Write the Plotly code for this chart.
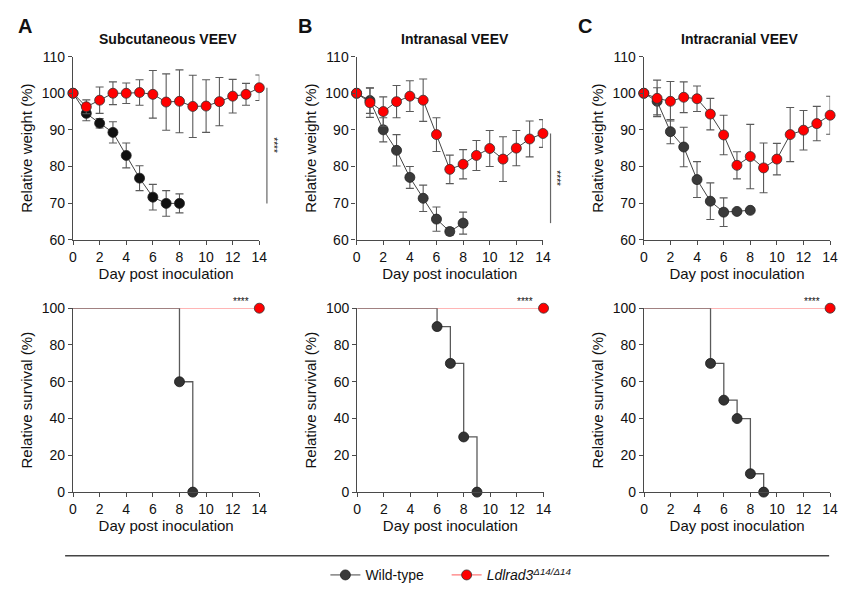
import plotly.graph_objects as go

# ---------------- data ----------------
days_ko = list(range(15))
days_wt = list(range(9))

a_wt = [100, 94.5, 91.8, 89.3, 83.0, 76.8, 71.6, 69.9, 69.9]
a_wt_err = [0, 2.0, 1.3, 2.9, 3.4, 3.4, 3.5, 3.5, 2.6]
a_ko = [100, 96.3, 98.1, 100.0, 100.0, 100.2, 99.7, 97.6, 97.8, 96.4, 96.5, 97.7, 99.2, 99.7, 101.5]
a_ko_err = [0, 1.9, 3.6, 3.1, 2.8, 3.5, 6.5, 7.7, 8.6, 8.5, 7.2, 6.6, 4.6, 3.0, 3.5]

b_wt = [100, 98.0, 90.0, 84.4, 77.0, 71.3, 65.6, 62.2, 64.5]
b_wt_err = [0, 3.5, 3.3, 4.3, 3.0, 3.6, 3.3, 1.0, 3.0]
b_ko = [100, 97.4, 95.0, 97.7, 99.2, 98.1, 88.7, 79.2, 80.6, 83.0, 84.9, 82.0, 85.0, 87.5, 89.0]
b_ko_err = [0, 4.0, 4.0, 4.4, 4.2, 5.8, 4.6, 3.9, 4.0, 4.1, 4.9, 6.1, 4.8, 4.9, 3.8]

c_wt = [100, 97.8, 89.5, 85.3, 76.4, 70.5, 67.5, 67.7, 68.0]
c_wt_err = [0, 3.7, 3.3, 5.4, 4.9, 5.0, 3.9, 0, 0]
c_ko = [100, 98.6, 97.8, 98.9, 98.5, 94.3, 88.6, 80.3, 82.7, 79.6, 82.0, 88.7, 89.9, 91.7, 94.0]
c_ko_err = [0, 5.0, 5.4, 4.2, 3.5, 4.3, 5.4, 3.7, 8.8, 6.8, 4.3, 7.4, 5.4, 4.7, 5.2]

a_surv_days = [0, 8, 9]
a_surv = [100, 60, 0]
b_surv_days = [0, 6, 7, 8, 9]
b_surv = [100, 90, 70, 30, 0]
c_surv_days = [0, 5, 6, 7, 8, 9]
c_surv = [100, 70, 50, 40, 10, 0]
ko_surv_days = [14, 0]
ko_surv = [100, 100]

titles = ["Subcutaneous VEEV", "Intranasal VEEV", "Intracranial VEEV"]
letters = ["A", "B", "C"]
x_ticks = list(range(0, 15, 2))
weight_ticks = [60, 70, 80, 90, 100, 110]
surv_ticks = [0, 20, 40, 60, 80, 100]

# ---------------- layout helpers ----------------
W, H = 846, 595
FONT = "Liberation Sans, Arial, sans-serif"
RED = "#ff0000"
WT_COLORS = ["#111111", "#3a3a3a", "#3a3a3a"]
AX = "#4a4a4a"

def fx(p):
    return p / W

def fy(p):
    return 1 - p / H

top_x_px = [(70, 259), (357.7, 546.7), (649, 838)]
bot_x_px = [(70, 259), (358.3, 547.3), (649.3, 838)]
top_y_px = (50, 238)
bot_y_px = (308.5, 497.5)

fig = go.Figure()

weights = [(a_wt, a_wt_err, a_ko, a_ko_err),
           (b_wt, b_wt_err, b_ko, b_ko_err),
           (c_wt, c_wt_err, c_ko, c_ko_err)]
survs = [(a_surv_days, a_surv), (b_surv_days, b_surv), (c_surv_days, c_surv)]

ko_name = "<i>Ldlrad3</i><sup><i>Δ14/Δ14</i></sup>"

for i in range(3):
    xa = f"x{i+1}" if i > 0 else "x"
    ya = f"y{i+1}" if i > 0 else "y"
    wt, wte, ko, koe = weights[i]
    fig.add_trace(go.Scatter(
        x=days_wt, y=wt, mode="lines+markers", xaxis=xa, yaxis=ya,
        line=dict(color="#444444", width=1),
        marker=dict(size=10, color=WT_COLORS[i], opacity=1, line=dict(color="#222222", width=0.8)),
        error_y=dict(type="data", array=wte, color="#5a5a5a", thickness=1.1, width=4),
        cliponaxis=False, name="Wild-type", showlegend=(i == 1), legend="legend"))
    fig.add_trace(go.Scatter(
        x=days_ko, y=ko, mode="lines+markers", xaxis=xa, yaxis=ya,
        line=dict(color="#444444", width=1),
        marker=dict(size=10, color=RED, opacity=1, line=dict(color="#333333", width=0.8)),
        error_y=dict(type="data", array=koe, color="#5a5a5a", thickness=1.1, width=4),
        cliponaxis=False, name=ko_name, showlegend=False))

for i in range(3):
    xa = f"x{i+4}"
    ya = f"y{i+4}"
    sd, sv = survs[i]
    fig.add_trace(go.Scatter(
        x=ko_surv_days, y=ko_surv, mode="lines+markers", xaxis=xa, yaxis=ya,
        line=dict(color="#ff7b7b", width=1.3),
        marker=dict(size=10, opacity=1, color=[RED, "rgba(0,0,0,0)"],
                    line=dict(color=["#333333", "rgba(0,0,0,0)"], width=0.8)),
        cliponaxis=False, name=ko_name, showlegend=(i == 1), legend="legend2"))
    fig.add_trace(go.Scatter(
        x=sd, y=sv, mode="lines+markers", xaxis=xa, yaxis=ya,
        line=dict(color="#5a5a5a", width=1.3, shape="hv"),
        marker=dict(size=[0] + [10] * (len(sd) - 1), opacity=1, color="#333333",
                    line=dict(color="#1a1a1a", width=0.8)),
        cliponaxis=False, name="Wild-type", showlegend=False))

axis_common = dict(showline=True, linecolor=AX, linewidth=1.3, ticks="outside",
                   ticklen=4, tickwidth=1.3, tickcolor=AX, showgrid=False,
                   zeroline=False, ticklabeloverflow="allow",
                   tickfont=dict(family=FONT, size=14, color="#111"),
                   title_font=dict(family=FONT, size=15, color="#111"))

layout = dict(
    width=W, height=H, margin=dict(l=0, r=0, t=0, b=0),
    paper_bgcolor="white", plot_bgcolor="white",
    font=dict(family=FONT, color="#111"),
    legend=dict(orientation="h", x=fx(326), y=fy(583), xanchor="left", yanchor="middle",
                font=dict(family=FONT, size=14, color="#111"), bgcolor="rgba(0,0,0,0)"),
    legend2=dict(orientation="h", x=fx(449), y=fy(583), xanchor="left", yanchor="middle",
                 font=dict(family=FONT, size=14, color="#111"), bgcolor="rgba(0,0,0,0)"),
)

for i in range(6):
    k = "" if i == 0 else str(i + 1)
    top = i < 3
    xp = top_x_px[i] if top else bot_x_px[i - 3]
    yp = top_y_px if top else bot_y_px
    layout["xaxis" + k] = dict(axis_common, domain=[fx(xp[0]), fx(xp[1])], range=[0, 14],
                               tickvals=x_ticks, anchor="y" + k,
                               title=dict(text="Day post inoculation", standoff=2))
    layout["yaxis" + k] = dict(axis_common, domain=[fy(yp[1]), fy(yp[0])],
                               range=[60, 110] if top else [0, 100],
                               tickvals=weight_ticks if top else surv_ticks,
                               anchor="x" + k,
                               title=dict(text="Relative weight (%)" if top else "Relative survival (%)",
                                          standoff=5))

fig.update_layout(**layout)

ann = []
title_cx = [166.7, 457, 746]
letter_cx = [21, 305, 589]
for i in range(3):
    ann.append(dict(text=f"<b>{titles[i]}</b>", x=fx(title_cx[i]), y=fy(32), xref="paper", yref="paper",
                    showarrow=False, xanchor="center", yanchor="middle",
                    font=dict(family=FONT, size=14, color="#111")))
    ann.append(dict(text=f"<b>{letters[i]}</b>", x=fx(letter_cx[i]), y=fy(19), xref="paper", yref="paper",
                    showarrow=False, xanchor="center", yanchor="middle",
                    font=dict(family=FONT, size=20, color="#111")))
    # survival significance stars (above the KO line, near day 12.6)
    bx = bot_x_px[i]
    sx = bx[0] + (bx[1] - bx[0]) * 12.6 / 14
    ann.append(dict(text="****", x=fx(sx), y=fy(bot_y_px[0] - 7), xref="paper", yref="paper",
                    showarrow=False, xanchor="center", yanchor="middle",
                    font=dict(family=FONT, size=10, color="#111")))

shapes = []
for i, (wt, ko) in enumerate([(a_wt, a_ko), (b_wt, b_ko)]):
    xp = top_x_px[i]
    xline = xp[0] + (xp[1] - xp[0]) * 14.57 / 14
    d0, d1 = fy(top_y_px[1]), fy(top_y_px[0])
    y_top = d0 + (ko[-1] - 60) / 50 * (d1 - d0)
    y_bot = d0 + (wt[-1] - 60) / 50 * (d1 - d0)
    shapes.append(dict(type="line", xref="paper", yref="paper", x0=fx(xline), x1=fx(xline),
                       y0=y_bot, y1=y_top, line=dict(color="#666666", width=1.2)))
    ann.append(dict(text="****", x=fx(xline + 6.5), y=(y_top + y_bot) / 2, xref="paper", yref="paper",
                    showarrow=False, textangle=90, xanchor="center", yanchor="middle",
                    font=dict(family=FONT, size=10, color="#111")))

shapes.append(dict(type="line", xref="paper", yref="paper", x0=fx(62), x1=fx(837),
                   y0=fy(563), y1=fy(563), line=dict(color="#444444", width=1.5)))

fig.update_layout(annotations=ann, shapes=shapes)
fig.write_html("out.html", config={"displayModeBar": False},
               post_script="document.body.style.margin='0px';document.body.style.overflow='hidden';")
